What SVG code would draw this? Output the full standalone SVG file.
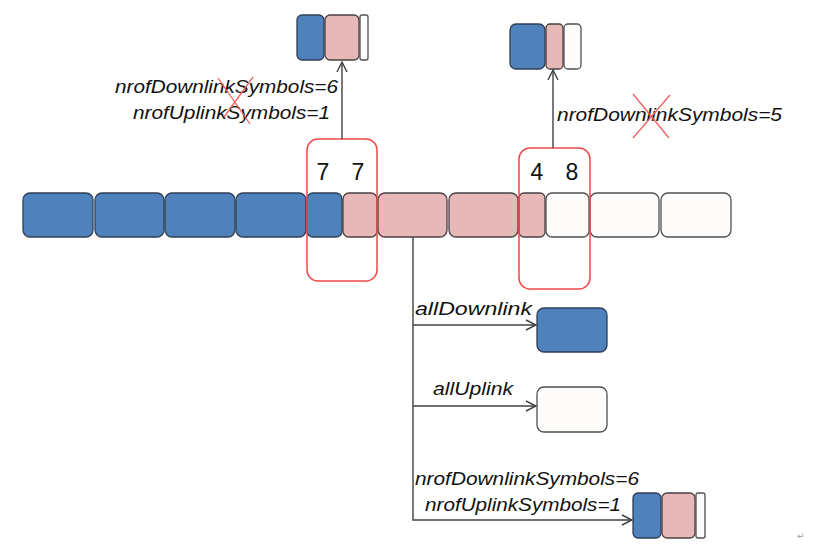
<svg xmlns="http://www.w3.org/2000/svg" width="818" height="551" viewBox="0 0 818 551">
<style>
.b{fill:#4f81bd;stroke:#2f3f55;stroke-width:1.3}
.p{fill:#e6b9b8;stroke:#4a4040;stroke-width:1.3}
.w{fill:#fdfcfb;stroke:#505050;stroke-width:1.3}
.r{fill:none;stroke:#f04848;stroke-width:1.5}
.x{stroke:#f06060;stroke-width:1.3}
.c{fill:none;stroke:#404040;stroke-width:1.4}
.t{font-family:"Liberation Sans",Arial,sans-serif;font-style:italic;font-size:18px;fill:#111}
.n{font-family:"Liberation Sans",Arial,sans-serif;font-size:23px;fill:#111}
</style>
<defs>
<marker id="a" viewBox="0 0 12 12" refX="11" refY="6" markerWidth="12" markerHeight="12" markerUnits="userSpaceOnUse" orient="auto">
<path d="M1,1 L11,6 L1,11" fill="none" stroke="#404040" stroke-width="1.4"/>
</marker>
</defs>
<rect width="818" height="551" fill="#fff"/>
<g id="slots">
<rect class="b" x="23" y="193" width="70" height="44" rx="7"/>
<rect class="b" x="95" y="193" width="69" height="44" rx="7"/>
<rect class="b" x="165" y="193" width="70" height="44" rx="7"/>
<rect class="b" x="236" y="193" width="70" height="44" rx="7"/>
<rect class="b" x="307" y="193" width="35" height="44" rx="6"/>
<rect class="p" x="343" y="193" width="34" height="44" rx="6"/>
<rect class="p" x="378" y="193" width="69" height="44" rx="7"/>
<rect class="p" x="449" y="193" width="69" height="44" rx="7"/>
<rect class="p" x="519" y="193" width="26" height="44" rx="5"/>
<rect class="w" x="546" y="193" width="43" height="44" rx="6"/>
<rect class="w" x="590" y="193" width="69" height="44" rx="7"/>
<rect class="w" x="661" y="193" width="70" height="44" rx="7"/>
</g>
<g id="highlight-left">
<rect class="r" x="307" y="139" width="70" height="142" rx="11"/>
<text class="n" x="323" y="180" text-anchor="middle">7</text>
<text class="n" x="358" y="180" text-anchor="middle">7</text>
</g>
<g id="highlight-right">
<rect class="r" x="519" y="148" width="71" height="141" rx="11"/>
<text class="n" x="537" y="180" text-anchor="middle">4</text>
<text class="n" x="572" y="180" text-anchor="middle">8</text>
</g>
<g id="top-left-slot">
<rect class="b" x="297" y="15" width="27" height="45" rx="5"/>
<rect class="p" x="325" y="15" width="34" height="45" rx="5"/>
<rect class="w" x="360" y="15" width="8" height="45" rx="2"/>
</g>
<g id="top-right-slot">
<rect class="b" x="510" y="24" width="35" height="45" rx="6"/>
<rect class="p" x="546" y="24" width="17" height="45" rx="4"/>
<rect class="w" x="564" y="24" width="17" height="45" rx="4"/>
</g>
<g id="all-downlink">
<rect class="b" x="537" y="308" width="70" height="44" rx="7"/>
</g>
<g id="all-uplink">
<rect class="w" x="537" y="387" width="70" height="45" rx="7"/>
</g>
<g id="bottom-slot">
<rect class="b" x="633" y="493" width="28" height="45" rx="5"/>
<rect class="p" x="662" y="493" width="33" height="45" rx="5"/>
<rect class="w" x="696" y="493" width="9" height="45" rx="2"/>
</g>
<g id="connectors">
<path class="c" d="M342,139 V62" marker-end="url(#a)"/>
<path class="c" d="M553,148 V70" marker-end="url(#a)"/>
<path class="c" d="M413,237 V520 H632" marker-end="url(#a)"/>
<path class="c" d="M413,325 H536" marker-end="url(#a)"/>
<path class="c" d="M413,406 H536" marker-end="url(#a)"/>
</g>
<g id="labels">
<text class="t" x="115" y="93" textLength="223" lengthAdjust="spacingAndGlyphs">nrofDownlinkSymbols=6</text>
<text class="t" x="133" y="119" textLength="197" lengthAdjust="spacingAndGlyphs">nrofUplinkSymbols=1</text>
<line class="x" x1="218" y1="78" x2="250" y2="124"/>
<line class="x" x1="253" y1="77" x2="224" y2="117"/>
<text class="t" x="557" y="121" textLength="225" lengthAdjust="spacingAndGlyphs">nrofDownlinkSymbols=5</text>
<line class="x" x1="633" y1="94" x2="669" y2="138"/>
<line class="x" x1="670" y1="95" x2="633" y2="138"/>
<text class="t" x="415" y="315" textLength="117" lengthAdjust="spacingAndGlyphs">allDownlink</text>
<text class="t" x="433" y="395" textLength="80" lengthAdjust="spacingAndGlyphs">allUplink</text>
<text class="t" x="415" y="485" textLength="224" lengthAdjust="spacingAndGlyphs">nrofDownlinkSymbols=6</text>
<text class="t" x="425" y="511" textLength="196" lengthAdjust="spacingAndGlyphs">nrofUplinkSymbols=1</text>
<text x="797" y="539" font-family="DejaVu Sans,sans-serif" font-size="9" fill="#999">↵</text>
</g>
</svg>
